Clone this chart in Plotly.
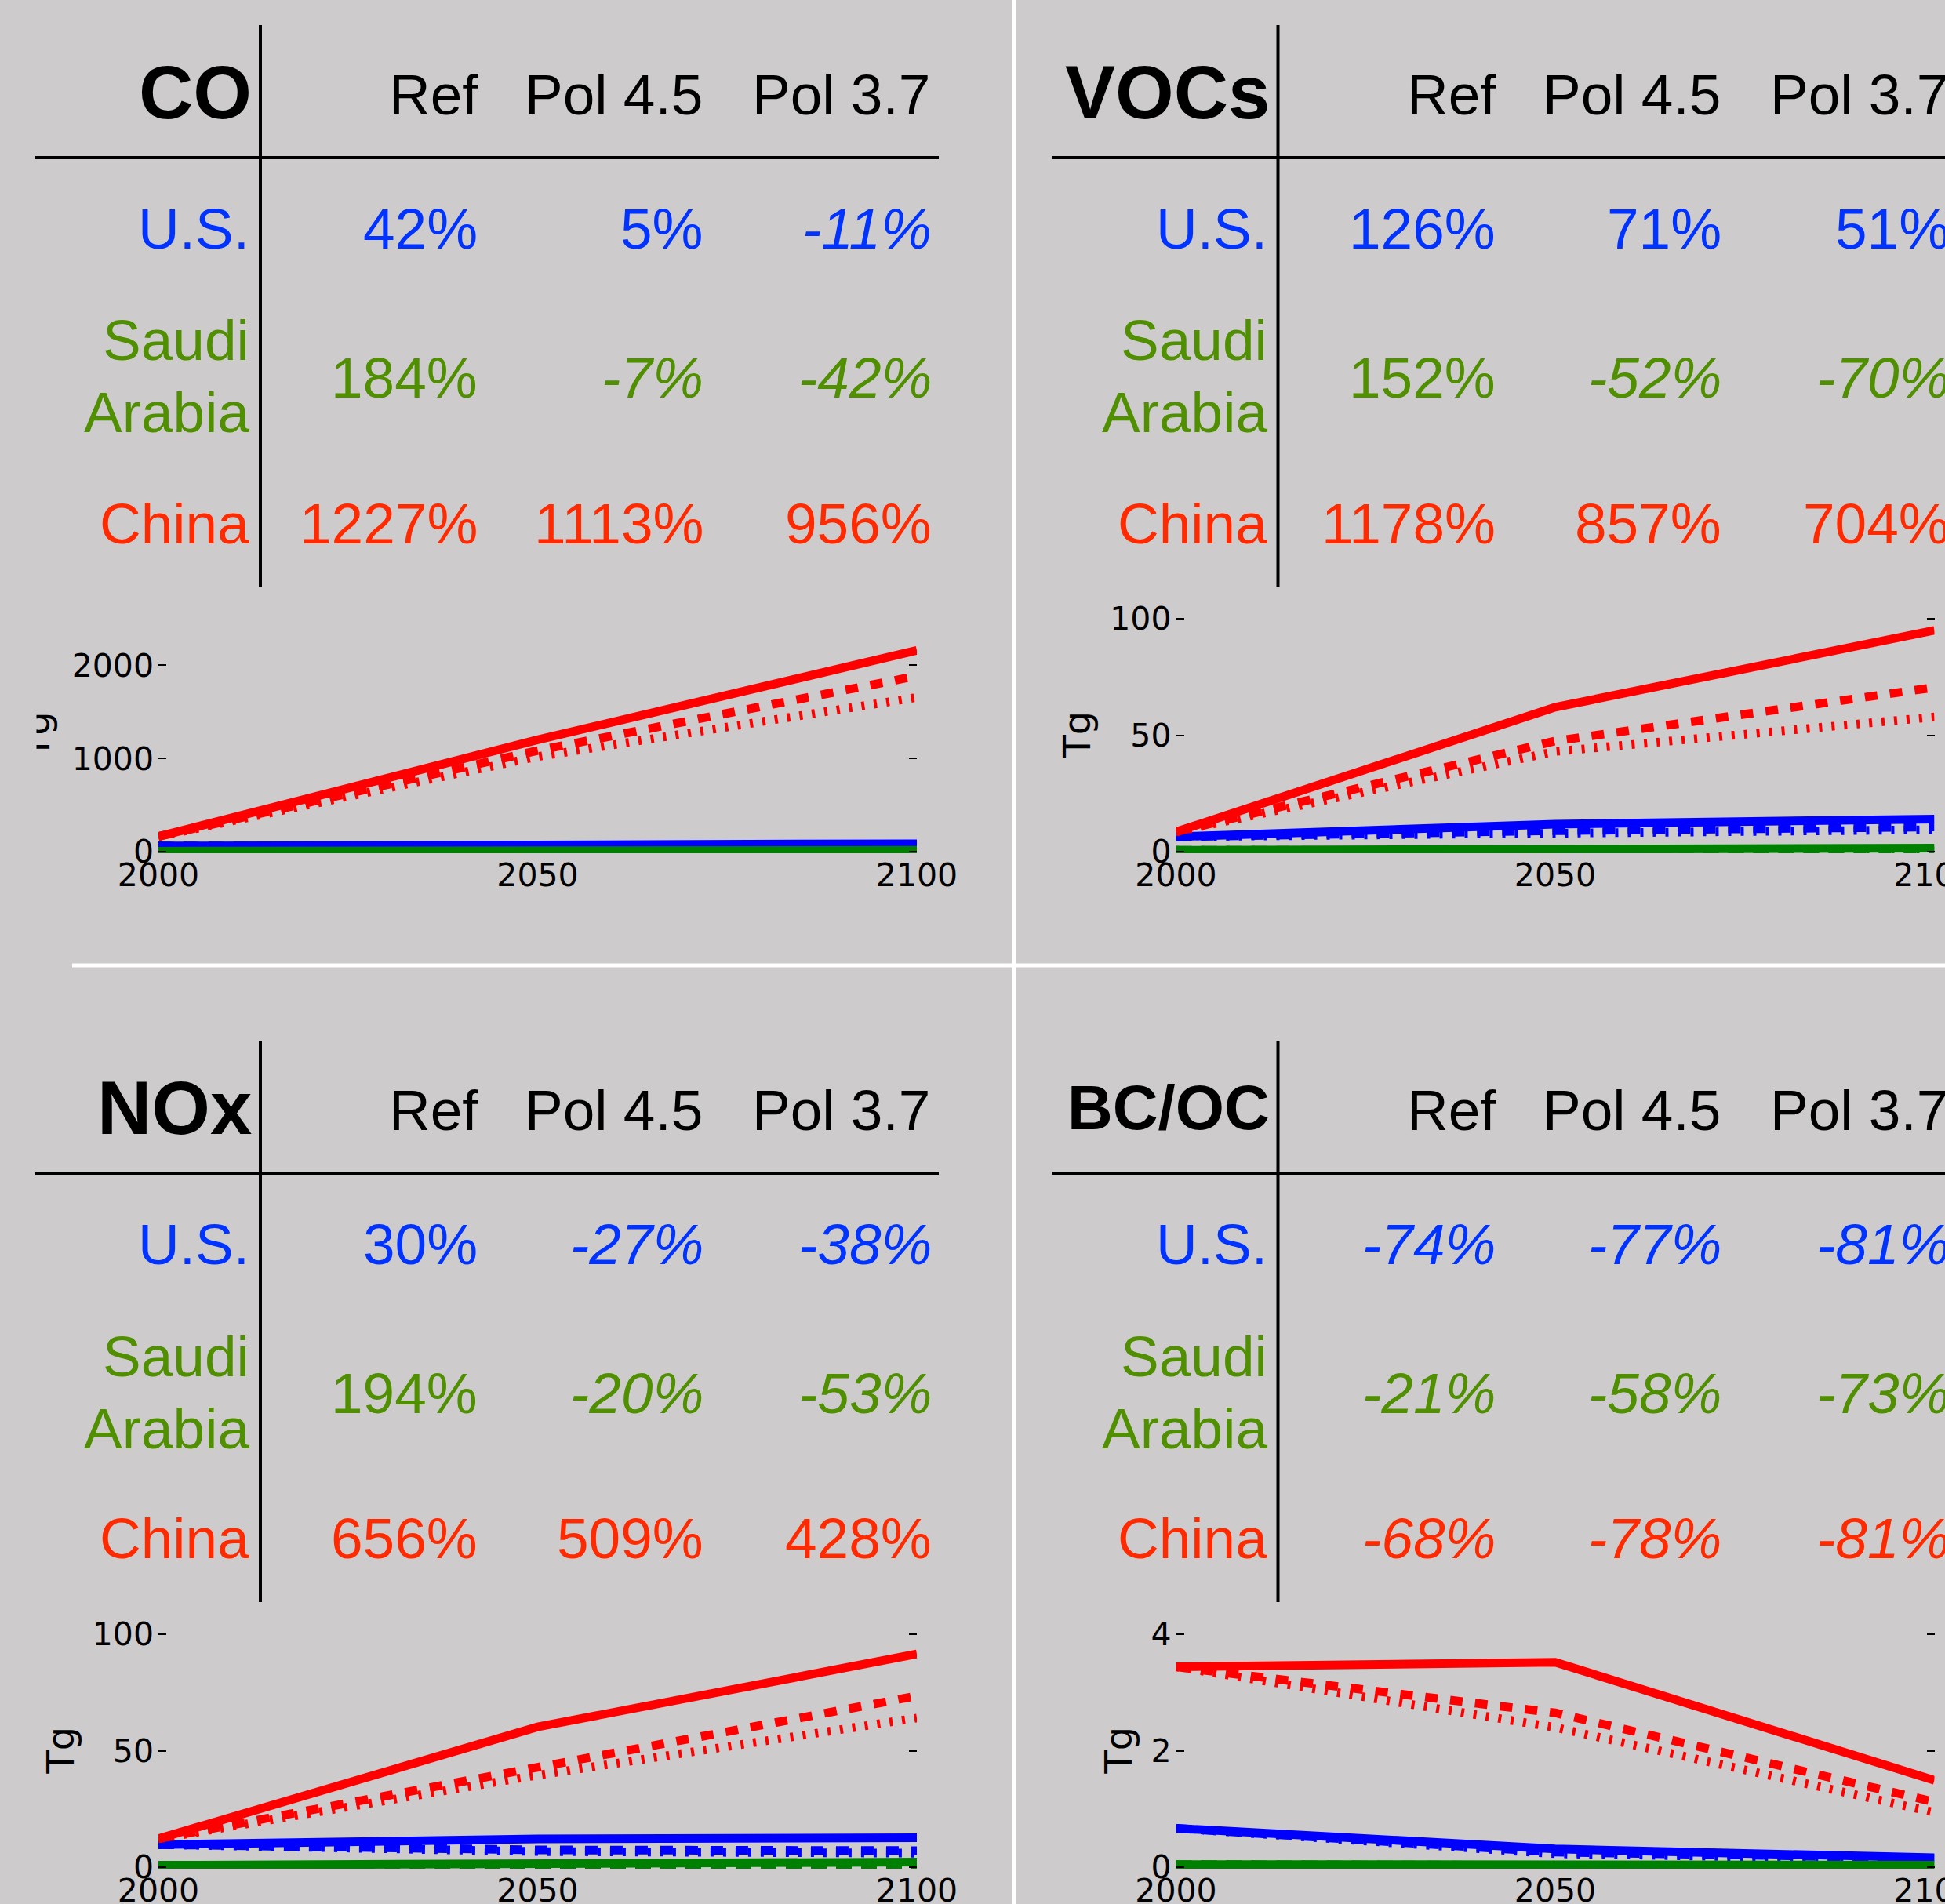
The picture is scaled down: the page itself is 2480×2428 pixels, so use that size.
import plotly.graph_objects as go

# ---------------------------------------------------------------------------
# Data
# ---------------------------------------------------------------------------
years = [2000, 2050, 2100]
pollutants = ["CO", "VOCs", "NOx", "BC/OC"]
scenarios = ["Ref", "Pol 4.5", "Pol 3.7"]
countries = ["U.S.", "Saudi Arabia", "China"]

# Percent change in emissions 2000 -> 2100 (rows: countries, cols: scenarios)
pct_co = [[42, 5, -11], [184, -7, -42], [1227, 1113, 956]]
pct_vocs = [[126, 71, 51], [152, -52, -70], [1178, 857, 704]]
pct_nox = [[30, -27, -38], [194, -20, -53], [656, 509, 428]]
pct_bcoc = [[-74, -77, -81], [-21, -58, -73], [-68, -78, -81]]

# Emissions in Tg at 2000 / 2050 / 2100; per country: Ref, Pol 4.5, Pol 3.7
co_us = [[60, 72, 85], [60, 64, 63], [60, 57, 53]]
co_saudi = [[5, 9, 14], [5, 5, 4.6], [5, 4, 2.9]]
co_china = [[162, 1200, 2160], [162, 1085, 1885], [162, 1020, 1655]]

vocs_us = [[6.4, 11.8, 14.0], [6.4, 9.0, 10.6], [6.4, 8.2, 9.4]]
vocs_saudi = [[0.6, 1.0, 1.5], [0.6, 0.4, 0.3], [0.6, 0.3, 0.2]]
vocs_china = [[8.5, 62.0, 95.0], [8.5, 47.5, 70.5], [8.5, 43.0, 57.8]]

nox_us = [[9.7, 12.1, 12.6], [9.7, 7.4, 7.1], [9.7, 6.7, 6.0]]
nox_saudi = [[0.8, 1.4, 2.2], [0.8, 0.7, 0.6], [0.8, 0.5, 0.4]]
nox_china = [[12.2, 60.2, 91.5], [12.2, 42.5, 73.5], [12.2, 39.5, 64.0]]

bcoc_us = [[0.667, 0.313, 0.161], [0.667, 0.26, 0.153], [0.667, 0.23, 0.127]]
bcoc_saudi = [[0.045, 0.04, 0.035], [0.045, 0.025, 0.019], [0.045, 0.02, 0.012]]
bcoc_china = [[3.44, 3.52, 1.49], [3.44, 2.65, 1.12], [3.44, 2.40, 0.94]]

y_max = [2500, 100, 100, 4]
y_ticks = [[0, 1000, 2000], [0, 50, 100], [0, 50, 100], [0, 2, 4]]

pct_tables = [pct_co, pct_vocs, pct_nox, pct_bcoc]
emissions = [
    [co_us, co_saudi, co_china],
    [vocs_us, vocs_saudi, vocs_china],
    [nox_us, nox_saudi, nox_china],
    [bcoc_us, bcoc_saudi, bcoc_china],
]

# ---------------------------------------------------------------------------
# Styling / geometry (pixel units on a 2480 x 2428 canvas)
# ---------------------------------------------------------------------------
W, H = 2480, 2428
BG = "rgb(205,203,204)"
TABLE_FONT = "Liberation Sans, Arial, Helvetica, sans-serif"
AXIS_FONT = "DejaVu Sans, Verdana, sans-serif"
text_colors = ["#0033ff", "#4f8f00", "#ff2a00"]
line_colors = ["#0000ff", "#008000", "#ff0000"]
line_dashes = ["solid", "16px,16px", "4px,12px"]
title_sizes = [96, 96, 96, 80]
panel_offsets = [(0, 0), (1297.5, 0), (0, 1295), (1297.5, 1295)]
tg_x = [46.5, 1373, 76, 1425]

# plot box (top-left panel); a 2px pad keeps the end ticks from being culled
PLOT_L, PLOT_R, PLOT_T, PLOT_B = 202, 1169, 789, 1086
PAD = 2


def px(x):
    return x / W


def py(y):
    return 1 - y / H


fig = go.Figure()
shapes = []
annotations = []

for p, name in enumerate(pollutants):
    dx, dy = panel_offsets[p]
    sfx = "" if p == 0 else str(p + 1)

    # --- line chart ---
    for c in range(3):
        for s in (2, 1, 0):
            fig.add_trace(go.Scatter(
                x=years, y=emissions[p][c][s], mode="lines",
                line=dict(color=line_colors[c], width=11, dash=line_dashes[s]),
                xaxis="x" + sfx, yaxis="y" + sfx,
                showlegend=False, hoverinfo="skip",
            ))

    unit = y_max[p] / (PLOT_B - PLOT_T)
    fig.layout["xaxis" + sfx] = dict(
        domain=[px(PLOT_L + dx), px(PLOT_R + dx)], anchor="y" + sfx,
        range=[2000, 2100], tickvals=years, ticktext=[str(y) for y in years],
        ticks="", showgrid=False, zeroline=False, showline=False,
        automargin=False, ticklabeloverflow="allow",
        tickfont=dict(family=AXIS_FONT, size=41, color="black"),
    )
    fig.layout["yaxis" + sfx] = dict(
        domain=[py(PLOT_B + PAD + dy), py(PLOT_T - PAD + dy)], anchor="x" + sfx,
        range=[-PAD * unit, y_max[p] + PAD * unit], tickvals=y_ticks[p],
        ticks="inside", ticklen=10, tickwidth=2, tickcolor="black",
        mirror="ticks", showgrid=False, zeroline=False, showline=False,
        automargin=False, ticklabeloverflow="allow", ticklabelstandoff=5,
        tickfont=dict(family=AXIS_FONT, size=41, color="black"),
    )

    annotations.append(dict(
        text="Tg", x=px(tg_x[p]), y=py(937.5 + dy), xref="paper", yref="paper",
        xanchor="center", yanchor="middle", textangle=-90, showarrow=False,
        font=dict(family=AXIS_FONT, size=48, color="black"),
    ))

    # --- table rules ---
    shapes.append(dict(type="line", xref="paper", yref="paper",
                       x0=px(332 + dx), x1=px(332 + dx), y0=py(32 + dy), y1=py(748 + dy),
                       line=dict(color="black", width=4)))
    shapes.append(dict(type="line", xref="paper", yref="paper",
                       x0=px(44 + dx), x1=px(1197 + dx), y0=py(201 + dy), y1=py(201 + dy),
                       line=dict(color="black", width=4)))

    # --- table text ---
    def label(text, x, y, size, color, bold=False):
        if bold:
            text = "<b>" + text + "</b>"
        annotations.append(dict(
            text=text, x=px(x), y=py(y), xref="paper", yref="paper",
            xanchor="right", yanchor="middle", showarrow=False,
            font=dict(family=TABLE_FONT, size=size, color=color),
        ))

    label(name, 323 + dx, 117 + dy, title_sizes[p], "black", bold=True)
    for s, (scen, hx) in enumerate(zip(scenarios, [612, 898, 1188])):
        label(scen, hx + dx, 120 + dy, 73, "black")

    row_y = [291, 481, 667]
    for c, cname in enumerate(countries):
        words = cname.split(" ")
        if len(words) == 2:
            label(words[0], 320 + dx, 434 + dy, 73, text_colors[c])
            label(words[1], 320 + dx, 526 + dy, 73, text_colors[c])
        else:
            label(cname, 320 + dx, row_y[c] + dy, 73, text_colors[c])
        for s, vx in enumerate([611, 899, 1190]):
            v = pct_tables[p][c][s]
            t = f"{v}%"
            if v < 0:
                t = "<i>" + t + "</i>"
            label(t, vx + dx, row_y[c] + dy, 73, text_colors[c])

# the leftmost axis title is cut by the panel edge
annotations.append(dict(
    text=" ", x=0, y=py(937.5), xref="paper", yref="paper",
    xanchor="left", yanchor="middle", width=45, height=140,
    bgcolor=BG, borderpad=0, showarrow=False,
))

# white separators between the four panels
shapes.append(dict(type="line", xref="paper", yref="paper",
                   x0=px(1293), x1=px(1293), y0=0, y1=1,
                   line=dict(color="white", width=5)))
shapes.append(dict(type="line", xref="paper", yref="paper",
                   x0=px(92), x1=1, y0=py(1231), y1=py(1231),
                   line=dict(color="white", width=5)))

fig.update_layout(
    width=W, height=H,
    margin=dict(l=0, r=0, t=0, b=0, pad=0, autoexpand=False),
    paper_bgcolor=BG, plot_bgcolor=BG,
    shapes=shapes, annotations=annotations,
    showlegend=False,
)

fig.write_html("out.html")
